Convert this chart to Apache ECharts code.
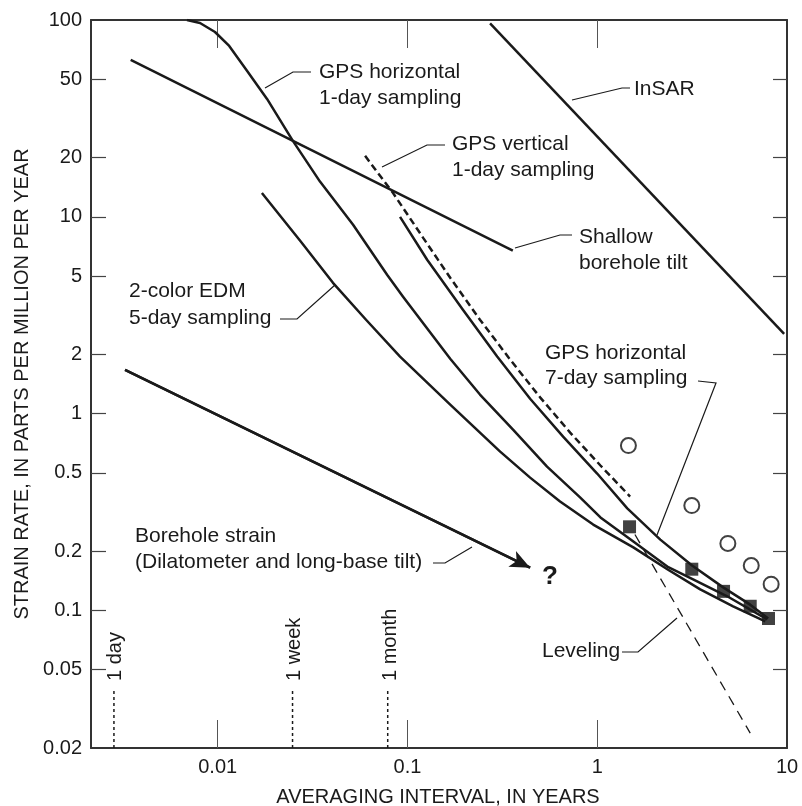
<!DOCTYPE html>
<html>
<head>
<meta charset="utf-8">
<script src="https://cdn.jsdelivr.net/npm/echarts@6/dist/echarts.min.js"></script>
<style>
  html, body { margin: 0; padding: 0; background: #fff; }
  #chart { width: 802px; height: 806px; }
</style>
</head>
<body>
<div id="chart"></div>
<script>
// axis ranges and tick values
const xRange = [0.00215, 10];
const yRange = [0.02, 100];
const xTicks = [0.01, 0.1, 1, 10];
const yTicks = [0.02, 0.05, 0.1, 0.2, 0.5, 1, 2, 5, 10, 20, 50, 100];

// curves (x = years, y = strain rate)
const tiltX = [0.00348, 0.359];
const tiltY = [62.7, 6.74];
const insarX = [0.2725, 9.66];
const insarY = [96.2, 2.54];
const gpsH1X = [0.00689, 0.00807, 0.00968, 0.0115, 0.0143, 0.0182, 0.0249, 0.0346, 0.0517, 0.0781, 0.0948, 0.168, 0.241, 0.36, 0.544, 0.812, 1.04, 1.55, 2.34, 3.2, 4.84, 7.86];
const gpsH1Y = [100, 96.6, 86.9, 73.8, 55.1, 39.7, 24.3, 15.1, 9.11, 5.08, 3.93, 1.9, 1.25, 0.83, 0.538, 0.375, 0.297, 0.224, 0.167, 0.144, 0.118, 0.09];
const edmX = [0.0171, 0.0272, 0.0405, 0.0605, 0.0914, 0.168, 0.308, 0.443, 0.637, 0.952, 1.55, 2.34, 3.49, 5.2, 7.68];
const edmY = [13.2, 7.55, 4.62, 3.0, 1.95, 1.11, 0.641, 0.473, 0.358, 0.273, 0.209, 0.162, 0.128, 0.105, 0.088];
const gpsH7X = [0.0914, 0.127, 0.196, 0.297, 0.443, 0.661, 0.999, 1.44, 2.15, 3.16, 4.61, 6.4, 7.96];
const gpsH7Y = [10.0, 6.05, 3.37, 1.95, 1.19, 0.764, 0.496, 0.33, 0.229, 0.169, 0.131, 0.107, 0.091];
const gpsVX = [0.0598, 0.084, 0.121, 0.168, 0.241, 0.348, 0.5, 0.72, 1.04, 1.49];
const gpsVY = [20.4, 13.2, 7.82, 4.9, 3.0, 1.88, 1.21, 0.801, 0.545, 0.379];
const levelX = [1.58, 6.4];
const levelY = [0.243, 0.0238];
const boreX = [0.00325, 0.443];
const boreY = [1.67, 0.165];
const squareX = [1.48, 3.15, 4.63, 6.4, 7.99];
const squareY = [0.266, 0.162, 0.125, 0.105, 0.091];
const circleX = [1.46, 3.15, 4.88, 6.48, 8.25];
const circleY = [0.688, 0.341, 0.219, 0.169, 0.136];
const markerX = [0.00284, 0.0248, 0.0787];
const markerY = [0.02, 0.0397];
const markerNames = ["1 day", "1 week", "1 month"];

const FONT = "Liberation Sans, Arial, sans-serif";
const INK = "#1a1a1a";

function pair(xs, ys) {
    return xs.map((x, i) => [x, ys[i]]);
}

function curve(name, xs, ys, extra) {
    return Object.assign({
        name: name,
        type: "line",
        data: pair(xs, ys),
        symbol: "none",
        smooth: false,
        lineStyle: { color: INK, width: 2.5, join: "round" },
        silent: true,
    }, extra || {});
}

function label(x, y, text, lh) {
    return {
        type: "text", x: x, y: y, silent: true,
        style: {
            text: text, font: "21px " + FONT, fill: INK,
            textAlign: "left", textVerticalAlign: "middle", lineHeight: lh || 26,
        },
    };
}

function leader(points) {
    return {
        type: "polyline", silent: true,
        shape: { points: points },
        style: { stroke: INK, lineWidth: 1.2, fill: null },
    };
}

function markerLabel(x, text) {
    return {
        type: "text", x: x, y: 681, rotation: Math.PI / 2, silent: true,
        style: {
            text: text, font: "20px " + FONT, fill: INK,
            textAlign: "left", textVerticalAlign: "middle",
        },
    };
}

const frame = { show: true, onZero: false, lineStyle: { color: "#333", width: 2 } };

const chart = echarts.init(document.getElementById("chart"));
const option = {
    animation: false,
    backgroundColor: "#fff",
    grid: { left: 91, top: 20, width: 696, height: 728 },
    xAxis: [
        {
            type: "log", logBase: 10, min: xRange[0], max: xRange[1],
            axisLine: frame,
            splitLine: { show: false },
            axisTick: { inside: true, length: 28, customValues: xTicks.slice(0, 3), lineStyle: { color: "#555", width: 1 } },
            axisLabel: { customValues: xTicks, margin: 9, fontSize: 20, color: INK, fontFamily: FONT, formatter: v => String(v) },
        },
        {
            type: "log", logBase: 10, min: xRange[0], max: xRange[1], position: "top",
            axisLine: frame,
            splitLine: { show: false },
            axisTick: { inside: true, length: 28, customValues: xTicks.slice(0, 3), lineStyle: { color: "#555", width: 1 } },
            axisLabel: { show: false },
        },
    ],
    yAxis: [
        {
            type: "log", logBase: 10, min: yRange[0], max: yRange[1],
            axisLine: frame,
            splitLine: { show: false },
            axisTick: { inside: true, length: 15, customValues: yTicks.slice(1, -1), lineStyle: { color: "#444", width: 1.2 } },
            axisLabel: { customValues: yTicks, margin: 9, fontSize: 20, color: INK, fontFamily: FONT, formatter: v => String(v) },
        },
        {
            type: "log", logBase: 10, min: yRange[0], max: yRange[1], position: "right",
            axisLine: frame,
            splitLine: { show: false },
            axisTick: { inside: true, length: 14, customValues: yTicks.slice(1, -1), lineStyle: { color: "#444", width: 1.2 } },
            axisLabel: { show: false },
        },
    ],
    series: [
        curve("Shallow borehole tilt", tiltX, tiltY),
        curve("InSAR", insarX, insarY),
        curve("GPS horizontal 1-day", gpsH1X, gpsH1Y),
        curve("2-color EDM", edmX, edmY),
        curve("GPS horizontal 7-day", gpsH7X, gpsH7Y),
        curve("GPS vertical 1-day", gpsVX, gpsVY, { lineStyle: { color: INK, width: 2.5, type: [7, 4] } }),
        curve("Leveling", levelX, levelY, { lineStyle: { color: INK, width: 1.3, type: [10, 7] } }),
        curve("Borehole strain", boreX, boreY, {
            markLine: {
                silent: true, animation: false,
                symbol: ["none", "arrow"], symbolSize: [13, 20],
                label: { show: false },
                lineStyle: { color: INK, width: 2.5, type: "solid" },
                data: [[{ coord: [boreX[0], boreY[0]] }, { coord: [boreX[1], boreY[1]] }]],
            },
        }),
        ...markerX.map((x, i) => ({
            name: markerNames[i], type: "line", symbol: "none", silent: true,
            data: markerY.map(y => [x, y]),
            lineStyle: { color: INK, width: 1.5, type: [3, 3] },
        })),
        {
            name: "squares", type: "scatter", symbol: "rect", symbolSize: 13, silent: true,
            data: pair(squareX, squareY),
            itemStyle: { color: "#111" },
        },
        {
            name: "circles", type: "scatter", symbol: "circle", symbolSize: 15, silent: true,
            data: pair(circleX, circleY),
            itemStyle: { color: "#fff", borderColor: "#111", borderWidth: 2 },
        },
    ],
    graphic: [
        {
            type: "text", x: 438, y: 797, silent: true,
            style: { text: "AVERAGING INTERVAL, IN YEARS", font: "20px " + FONT, fill: INK, textAlign: "center", textVerticalAlign: "middle" },
        },
        {
            type: "text", x: 22, y: 384, rotation: Math.PI / 2, silent: true,
            style: { text: "STRAIN RATE, IN PARTS PER MILLION PER YEAR", font: "20px " + FONT, fill: INK, textAlign: "center", textVerticalAlign: "middle" },
        },
        label(319, 85, "GPS horizontal\n1-day sampling"),
        leader([[265, 88], [293, 72], [311, 72]]),
        label(634, 89, "InSAR"),
        leader([[572, 100], [622, 88], [630, 88]]),
        label(452, 157, "GPS vertical\n1-day sampling"),
        leader([[382, 167], [427, 145], [445, 145]]),
        label(579, 250, "Shallow\nborehole tilt"),
        leader([[515, 248], [560, 235], [572, 235]]),
        label(129, 305, "2-color EDM\n5-day sampling", 27),
        leader([[280, 319], [297, 319], [335, 285]]),
        label(545, 365.5, "GPS horizontal\n7-day sampling", 25),
        leader([[698, 381], [716, 383], [657, 535]]),
        label(135, 549, "Borehole strain\n(Dilatometer and long-base tilt)"),
        leader([[433, 563], [445, 563], [472, 547]]),
        label(542, 651, "Leveling"),
        leader([[622, 652], [638, 652], [677, 618]]),
        {
            type: "text", x: 550, y: 577, silent: true,
            style: { text: "?", font: "bold 26px " + FONT, fill: INK, textAlign: "center", textVerticalAlign: "middle" },
        },
        markerLabel(115, markerNames[0]),
        markerLabel(294, markerNames[1]),
        markerLabel(390, markerNames[2]),
    ],
};
chart.setOption(option);
window.addEventListener("resize", function () {
    chart.resize();
});
</script>
</body>
</html>
